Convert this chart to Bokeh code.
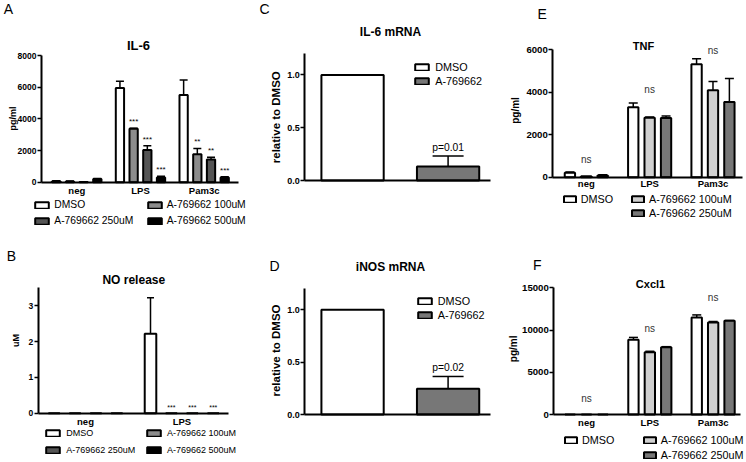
import math
from bokeh.plotting import figure
from bokeh.models import (Range1d, FixedTicker, Label, Legend, LegendItem,
                          Whisker, TeeHead, ColumnDataSource)
from bokeh.layouts import row, column
from bokeh.embed import file_html
from bokeh.resources import INLINE

# ---------------- data ----------------
groups = ["neg", "LPS", "Pam3c"]
il6_series = ["DMSO", "A-769662 100uM", "A-769662 250uM", "A-769662 500uM"]
il6_mean = {"neg": [60, 50, 10, 200], "LPS": [5950, 3370, 2040, 300], "Pam3c": [5500, 1770, 1430, 300]}
il6_err = {"neg": [30, 30, 10, 40], "LPS": [420, 40, 260, 70], "Pam3c": [950, 360, 150, 50]}
il6_sig = {"neg": ["", "", "", ""], "LPS": ["", "***", "***", "***"], "Pam3c": ["", "**", "**", "***"]}
il6_ticks = [0, 2000, 4000, 6000, 8000]

no_groups = ["neg", "LPS"]
no_mean = {"neg": [0, 0, 0, 0], "LPS": [2.22, 0, 0, 0]}
no_err = {"neg": [0, 0, 0, 0], "LPS": [1.0, 0, 0, 0]}
no_sig = {"neg": ["", "", "", ""], "LPS": ["", "***", "***", "***"]}
no_ticks = [0, 1, 2, 3]

mrna_series = ["DMSO", "A-769662"]
il6_mrna = [1.0, 0.133]
il6_mrna_err = [0.0, 0.10]
il6_mrna_p = "p=0.01"
inos_mrna = [1.0, 0.245]
inos_mrna_err = [0.0, 0.118]
inos_mrna_p = "p=0.02"
mrna_ticks = [0.0, 0.5, 1.0]
mrna_tick_labels = ["0.0", "0.5", "1.0"]

cyt_series = ["DMSO", "A-769662 100uM", "A-769662 250uM"]
tnf_mean = {"neg": [210, 50, 80], "LPS": [3300, 2800, 2790], "Pam3c": [5320, 4090, 3540]}
tnf_err = {"neg": [30, 0, 30], "LPS": [200, 35, 95], "Pam3c": [255, 415, 1110]}
tnf_ticks = [0, 2000, 4000, 6000]
cxcl1_mean = {"neg": [0, 0, 0], "LPS": [8850, 7370, 7950], "Pam3c": [11480, 10890, 11090]}
cxcl1_err = {"neg": [0, 0, 0], "LPS": [275, 115, 80], "Pam3c": [310, 120, 40]}
cxcl1_ticks = [0, 5000, 10000, 15000]
ns_label = "ns"

# ---------------- layout helpers ----------------
COLS = [0, 250, 500, 746]
ROWS = [0, 230, 462]
FONT = "Liberation Sans"
LW = 2.0


def make_panel(ci, ri, axes_px, xext, ymax, yticks, ytick_size, ylabels=None):
    """axes_px: (left, top, right, bottom) pixel position of the axes; the frame fills the cell."""
    cx0, cx1 = COLS[ci], COLS[ci + 1]
    cy0, cy1 = ROWS[ri], ROWS[ri + 1]
    w, h = cx1 - cx0, cy1 - cy0
    al, at, ar, ab = axes_px
    x0, x1 = xext
    kx = (x1 - x0) / (ar - al)
    ky = ymax / (ab - at)
    xr = (x0 - (al - cx0) * kx, x1 + (cx1 - ar) * kx)
    yr = (-(cy1 - ab) * ky, ymax + (at - cy0) * ky)
    p = figure(width=w, height=h, x_range=Range1d(*xr), y_range=Range1d(*yr),
               min_border=0, min_border_left=0, min_border_right=0,
               min_border_top=0, min_border_bottom=0,
               output_backend="svg", toolbar_location=None, tools="")
    p.grid.visible = False
    p.outline_line_color = None
    p.background_fill_color = "white"
    p.border_fill_color = "white"
    ya = p.yaxis[0]
    ya.fixed_location = x0
    ya.bounds = (0, ymax)
    ya.ticker = FixedTicker(ticks=yticks)
    if ylabels is not None:
        ya.major_label_overrides = {t: l for t, l in zip(yticks, ylabels)}
    ya.axis_line_width = 2
    ya.major_tick_line_width = 1.5
    ya.major_tick_out = 4
    ya.major_tick_in = 0
    ya.minor_tick_line_color = None
    ya.major_label_standoff = 1
    ya.major_label_text_font = FONT
    ya.major_label_text_font_style = "bold"
    ya.major_label_text_font_size = f"{ytick_size}px"
    ya.major_label_text_color = "black"
    xa = p.xaxis[0]
    xa.fixed_location = 0
    xa.bounds = (x0, x1)
    xa.ticker = FixedTicker(ticks=[])
    xa.axis_line_width = 2
    xa.major_tick_line_color = None
    xa.minor_tick_line_color = None
    return dict(p=p, fl=cx0, fb=cy1)


def set_categories(P, cats, below_px, size=9.5):
    for i, c in enumerate(cats):
        P["p"].add_layout(Label(x=i + 0.5, y=0, y_offset=-below_px, text=c, text_font=FONT,
                                text_font_size=f"{size}px", text_font_style="bold",
                                text_align="center", text_baseline="middle", text_color="black"))


def txt(P, rx, ry, text, size, bold=False, align="center", baseline="middle", angle=0.0, color="black"):
    P["p"].add_layout(Label(x=rx - P["fl"], y=P["fb"] - ry, x_units="screen", y_units="screen",
                            text=text, text_font=FONT, text_font_size=f"{size}px",
                            text_font_style="bold" if bold else "normal",
                            text_align=align, text_baseline=baseline, angle=angle, text_color=color))


def leg(P, rend, label, rx, ry, gw, gh, size, standoff):
    lg = Legend(items=[LegendItem(label=label, renderers=[rend])],
                location=(rx - P["fl"], P["fb"] - ry - gh / 2 - 2),
                glyph_width=int(round(gw)), glyph_height=int(round(gh)),
                label_height=int(round(gh)), label_standoff=standoff,
                padding=0, margin=0, spacing=0, border_line_alpha=0, background_fill_alpha=0,
                label_text_font=FONT, label_text_font_size=f"{size}px", label_text_baseline="middle",
                label_text_color="black")
    P["p"].add_layout(lg)


def grouped_bars(P, cats, mean, err, colors, step, width, cap, sig=None, sig_size=8):
    p = P["p"]
    n = len(colors)
    rends = []
    for i in range(n):
        xs = [g + 0.5 + (i - (n - 1) / 2) * step for g in range(len(cats))]
        tops = [mean[c][i] for c in cats]
        ups = [mean[c][i] + err[c][i] for c in cats]
        src = ColumnDataSource(dict(x=xs, top=tops))
        r = p.vbar(x="x", top="top", bottom=0, width=width, source=src,
                   fill_color=colors[i], line_color="black", line_width=LW)
        rends.append(r)
        ex = [x for x, c in zip(xs, cats) if err[c][i] > 0]
        et = [t for t, c in zip(tops, cats) if err[c][i] > 0]
        eu = [u for u, c in zip(ups, cats) if err[c][i] > 0]
        if ex:
            wsrc = ColumnDataSource(dict(x=ex, lo=et, up=eu))
            p.add_layout(Whisker(source=wsrc, base="x", lower="lo", upper="up", dimension="height",
                                 line_color="black", line_width=1.5, lower_head=None,
                                 upper_head=TeeHead(size=cap, line_color="black", line_width=1.5)))
        if sig is not None:
            sx = [x for x, c in zip(xs, cats) if sig[c][i]]
            sy = [u for u, c in zip(ups, cats) if sig[c][i]]
            st = [sig[c][i] for c in cats if sig[c][i]]
            if sx:
                p.text(x=sx, y=sy, text=st, text_align="center", text_baseline="bottom",
                       y_offset=-2, text_font_size=f"{sig_size}px", text_color="black")
    return rends


# ---------------- Panel A: IL-6 ----------------
A = make_panel(0, 0, (41, 55, 238, 181.7), (-0.054, 3.039), 8000, il6_ticks, 8.5)
set_categories(A, groups, 8.3)
rA = grouped_bars(A, groups, il6_mean, il6_err, ["white", "#8c8c8c", "#555555", "black"],
                  0.215, 0.13, 8, il6_sig)
txt(A, 8, 8.5, "A", 14)
txt(A, 138, 45, "IL-6", 13, bold=True)
txt(A, 12, 118, "pg/ml", 9, bold=True, angle=math.pi / 2)
leg(A, rA[0], il6_series[0], 33.3, 203.8, 17, 8.5, 10.3, 4)
leg(A, rA[1], il6_series[1], 145.7, 203.8, 17, 8.5, 10.3, 4)
leg(A, rA[2], il6_series[2], 33.3, 219.8, 17, 8.5, 10.3, 4)
leg(A, rA[3], il6_series[3], 145.7, 219.8, 17, 8.5, 10.3, 4)

# ---------------- Panel B: NO release ----------------
B = make_panel(0, 1, (37.7, 287.3, 228.3, 412.7), (0.009, 1.987), 3.5, no_ticks, 8.5)
set_categories(B, no_groups, 8)
rB = grouped_bars(B, no_groups, no_mean, no_err, ["white", "#8c8c8c", "#555555", "black"],
                  0.217, 0.12, 7, no_sig, 7)
txt(B, 10.8, 255.3, "B", 14)
txt(B, 133.3, 279.3, "NO release", 12, bold=True)
txt(B, 15, 340, "uM", 9, bold=True, angle=math.pi / 2)
leg(B, rB[0], il6_series[0], 44.3, 432.7, 16.7, 7.5, 9, 5)
leg(B, rB[1], il6_series[1], 145, 432.7, 16.7, 7.5, 9, 5)
leg(B, rB[2], il6_series[2], 44.3, 449, 16.7, 7.5, 9, 5)
leg(B, rB[3], il6_series[3], 145, 449, 16.7, 7.5, 9, 5)


# ---------------- Panels C, D: mRNA ----------------
def mrna_panel(ri, axes_px, vals, errs, ptext, letter, letter_pos, title, title_pos, ylab_pos, leg_x, leg_y):
    P = make_panel(1, ri, axes_px, (0.0, 1.944), 1.2, mrna_ticks, 9, mrna_tick_labels)
    p = P["p"]
    xs = [0.5, 1.5]
    rends = []
    for i, c in enumerate(["white", "#777777"]):
        src = ColumnDataSource(dict(x=[xs[i]], top=[vals[i]]))
        rends.append(p.vbar(x="x", top="top", bottom=0, width=0.652, source=src,
                            fill_color=c, line_color="black", line_width=LW))
    wsrc = ColumnDataSource(dict(x=[xs[1]], lo=[vals[1]], up=[vals[1] + errs[1]]))
    p.add_layout(Whisker(source=wsrc, base="x", lower="lo", upper="up", dimension="height",
                         line_color="black", line_width=1.5, lower_head=None,
                         upper_head=TeeHead(size=31, line_color="black", line_width=1.5)))
    p.add_layout(Label(x=xs[1], y=vals[1] + errs[1], y_offset=3, text=ptext, text_font=FONT,
                       text_font_size="10.3px", text_align="center", text_baseline="bottom",
                       text_color="black"))
    txt(P, letter_pos[0], letter_pos[1], letter, 14)
    txt(P, title_pos[0], title_pos[1], title, 12, bold=True)
    txt(P, ylab_pos[0], ylab_pos[1], "relative to DMSO", 11.5, bold=True, angle=math.pi / 2)
    leg(P, rends[0], mrna_series[0], leg_x, leg_y[0], 16.7, 8, 10.8, 5)
    leg(P, rends[1], mrna_series[1], leg_x, leg_y[1], 16.7, 8, 10.8, 5)
    return P


C = mrna_panel(0, (304.3, 53.3, 490, 180), il6_mrna, il6_mrna_err, il6_mrna_p, "C", (264, 8.5),
               "IL-6 mRNA", (390, 31.7), (275, 116.7), 413.3, (66.7, 81))
D = mrna_panel(1, (304.3, 288.3, 490, 414), inos_mrna, inos_mrna_err, inos_mrna_p, "D", (274, 265),
               "iNOS mRNA", (390, 266.7), (275, 350), 415.7, (300.7, 315))


# ---------------- Panels E, F: cytokines ----------------
def cyt_panel(ri, axes_px, xext, ymax, ticks, mean, err, letter, letter_pos, title, title_pos, ylab_pos,
              ns_offsets, legx, legy, cat_below):
    P = make_panel(2, ri, axes_px, xext, ymax, ticks, 9.6)
    set_categories(P, groups, cat_below)
    r = grouped_bars(P, groups, mean, err, ["white", "#d0d0d0", "#777777"], 0.259, 0.163, 9)
    for g, c in enumerate(groups):
        top = max(m + e for m, e in zip(mean[c], err[c]))
        P["p"].add_layout(Label(x=g + 0.5, y=top, y_offset=ns_offsets[g], text=ns_label, text_font=FONT,
                                text_font_size="10px", text_align="center", text_baseline="middle",
                                text_color="#333333"))
    txt(P, letter_pos[0], letter_pos[1], letter, 14)
    txt(P, title_pos[0], title_pos[1], title, 11, bold=True)
    txt(P, ylab_pos[0], ylab_pos[1], "pg/ml", 10, bold=True, angle=math.pi / 2)
    leg(P, r[0], cyt_series[0], legx[0], legy[0], 15, 8.3, 10.8, 4)
    leg(P, r[1], cyt_series[1], legx[1], legy[0], 15, 8.3, 10.8, 4)
    leg(P, r[2], cyt_series[2], legx[1], legy[1], 15, 8.3, 10.8, 4)
    return P


E = cyt_panel(0, (552.3, 49.3, 742, 176.7), (-0.029, 2.966), 6000, tnf_ticks, tnf_mean, tnf_err,
              "E", (541.7, 13), "TNF", (643, 45), (515, 110), [13, 13, 8],
              (561.7, 630), (199, 212.5), 6)
F = cyt_panel(1, (553.3, 287.3, 740, 414), (-0.017, 2.932), 15000, cxcl1_ticks, cxcl1_mean, cxcl1_err,
              "F", (536.7, 264.5), "Cxcl1", (650, 283), (513, 348.3), [16, 8.6, 17.7],
              (563, 641.7), (440, 455), 7.7)

layout = row(column(A["p"], B["p"]), column(C["p"], D["p"]), column(E["p"], F["p"]))
open("out.html", "w").write(file_html(layout, INLINE))
